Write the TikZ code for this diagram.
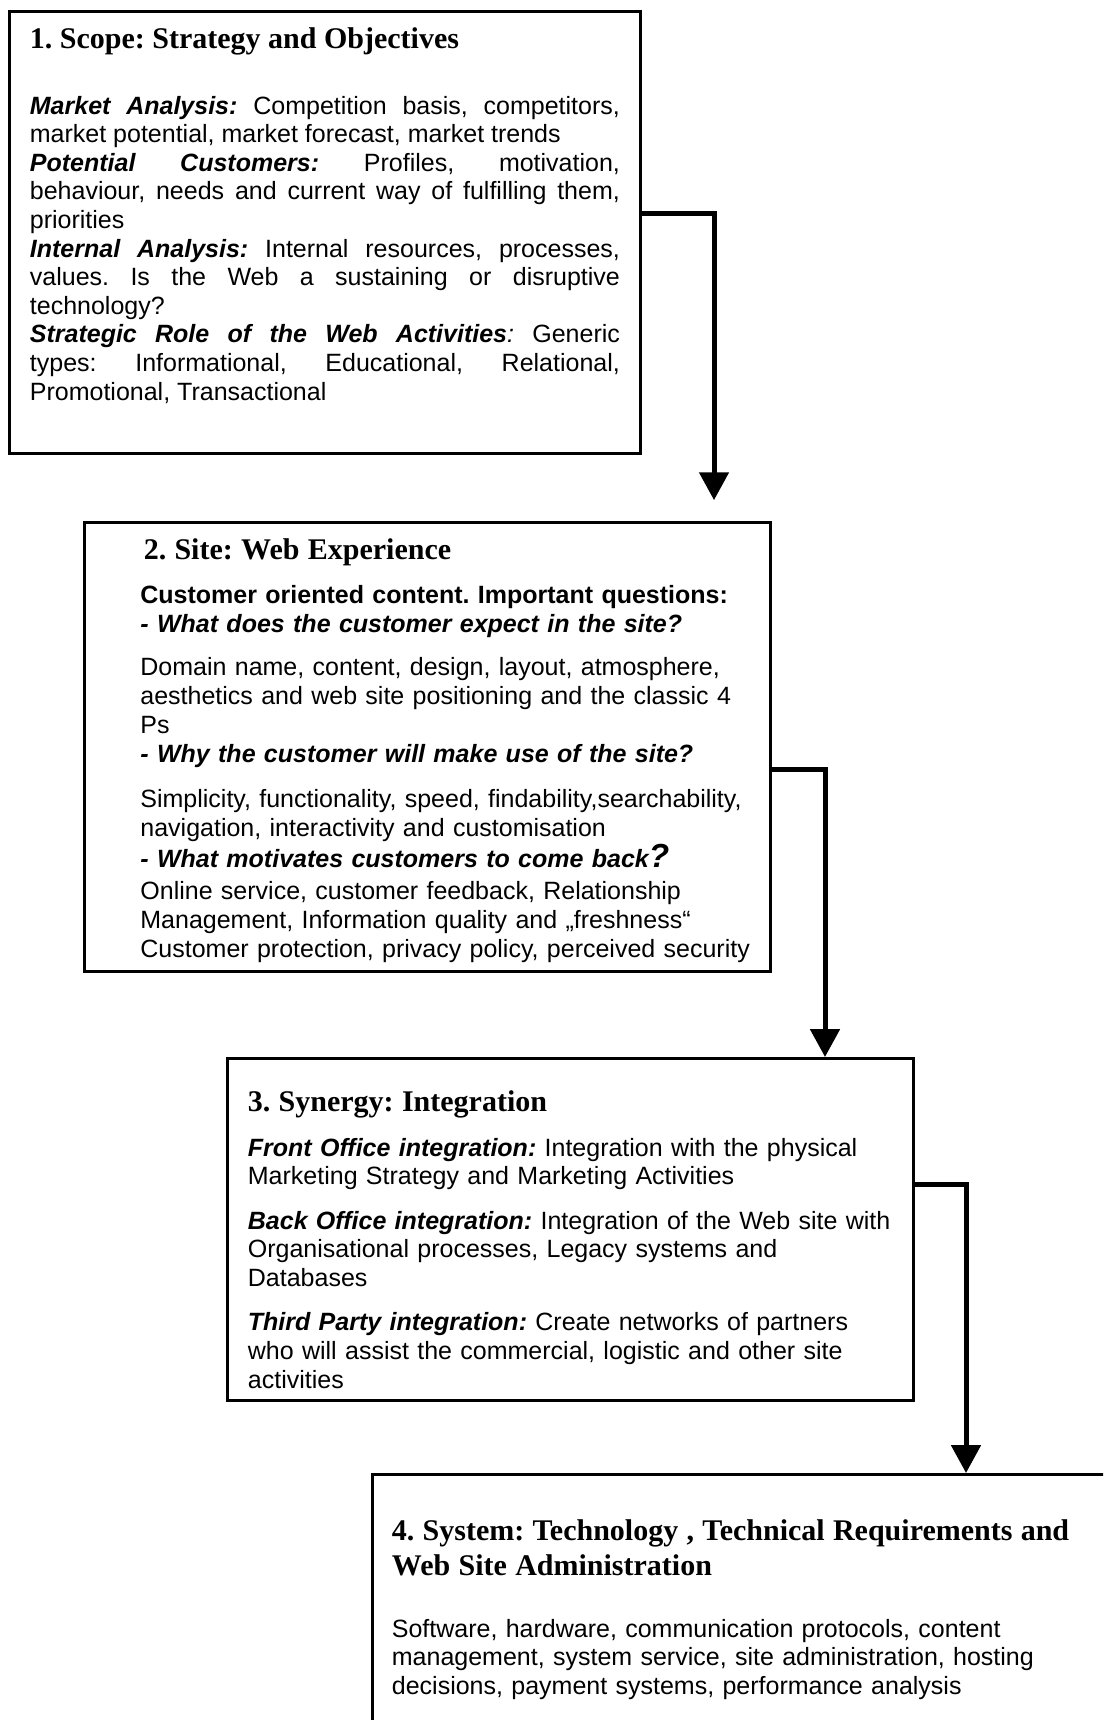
\documentclass[tikz,border=0pt]{standalone}
\usepackage{fontspec}
\setmainfont{Liberation Sans}
\newfontfamily\serifhead{Liberation Serif}
\usetikzlibrary{arrows.meta}

\newcommand{\stagehead}[1]{{\serifhead\bfseries\fontsize{14.4pt}{16.8pt}\selectfont #1\par}}
\newcommand{\lead}[1]{\textbf{\textit{#1}}}

\begin{document}
\begin{tikzpicture}[x=0.48pt,y=-0.48pt,
        stage/.style={draw,line width=1.44pt,anchor=north west,inner sep=0pt},
        stagetext/.style={anchor=base west,inner sep=0pt,align=left,
            font=\fontsize{12pt}{13.73pt}\selectfont\frenchspacing},
        flow/.style={-{Triangle[width=13.9pt,length=13.4pt]},line width=2.4pt}]

        \useasboundingbox (0,0) rectangle (1103,1720);
        \fill[white] (0,0) rectangle (1103,1720);
        \clip (0,0) rectangle (1103,1720);

        % Define boxes
        \node[stage,minimum width=302.88pt,minimum height=212.4pt] (b1) at (8,9.5) {};
        \node[stage,minimum width=329.04pt,minimum height=215.52pt] (b2) at (83,521) {};
        \node[stage,minimum width=329.28pt,minimum height=164.16pt] (b3) at (226,1057) {};
        \node[stage,minimum width=364.8pt,minimum height=144pt] (b4) at (371,1473) {};

        % Box texts
        \node[stagetext,text width=283.2pt,align=justify] (t1) at (29.5,48) {%
            \stagehead{1. Scope: Strategy and Objectives}
            \vspace{18pt}
            \lead{Market Analysis:} Competition basis, competitors,\linebreak
            market potential, market forecast, market trends\par
            \lead{Potential Customers:} Profiles, motivation,\linebreak
            behaviour, needs and current way of fulfilling them,\linebreak
            priorities\par
            \lead{Internal Analysis:} Internal resources, processes,\linebreak
            values. Is the Web a sustaining or disruptive\linebreak
            technology?\par
            \lead{Strategic Role of the Web Activities}\textit{:} Generic\linebreak
            types: Informational, Educational, Relational,\linebreak
            Promotional, Transactional};

        \node[stagetext,text width=297.6pt,
            font=\fontsize{12pt}{13.9pt}\selectfont\frenchspacing] (t2) at (140,559) {%
            \stagehead{\hspace{1.6pt}2. Site: Web Experience}
            \vspace{7.5pt}
            \textbf{Customer oriented content. Important questions:}\\
            \lead{- What does the customer expect in the site?}\par
            \vspace{6.9pt}
            Domain name, content, design, layout, atmosphere,\\
            aesthetics and web site positioning and the classic 4\\
            Ps\\
            \lead{- Why the customer will make use of the site?}\par
            \vspace{7.4pt}
            Simplicity, functionality, speed, findability,searchability,\\
            navigation, interactivity and customisation\par
            \vspace{1.2pt}
            \lead{- What motivates customers to come back\smash{\fontsize{16pt}{16pt}\selectfont ?}}\par
            \vspace{1.6pt}
            Online service, customer feedback, Relationship\\
            Management, Information quality and „freshness“\\
            Customer protection, privacy policy, perceived security};

        \node[stagetext,text width=314.4pt] (t3) at (247.5,1111.7) {%
            \stagehead{3. Synergy: Integration}
            \vspace{7.6pt}
            \lead{Front Office integration:} Integration with the physical\\
            Marketing Strategy and Marketing Activities\par
            \vspace{7.6pt}
            \lead{Back Office integration:} Integration of the Web site with\\
            Organisational processes, Legacy systems and\\
            Databases\par
            \vspace{7.6pt}
            \lead{Third Party integration:} Create networks of partners\\
            who will assist the commercial, logistic and other site\\
            activities};

        \node[stagetext,text width=336pt] (t4) at (391.5,1540.5) {%
            \stagehead{4. System: Technology , Technical Requirements and\\
                Web Site Administration}
            \vspace{15.9pt}
            Software, hardware, communication protocols, content\\
            management, system service, site administration, hosting\\
            decisions, payment systems, performance analysis};

        % Draw arrows
        \draw[flow,shorten >=10pt] ([yshift=9pt]b1.east) -| ([xshift=-27.6pt]b2.north east);
        \draw[flow] ([yshift=-10.8pt]b2.east) -| ([xshift=-43.2pt]b3.north east);
        \draw[flow] ([yshift=21.6pt]b3.east) -| ([xshift=285.6pt]b4.north west);

        \end{tikzpicture}
\end{document}
